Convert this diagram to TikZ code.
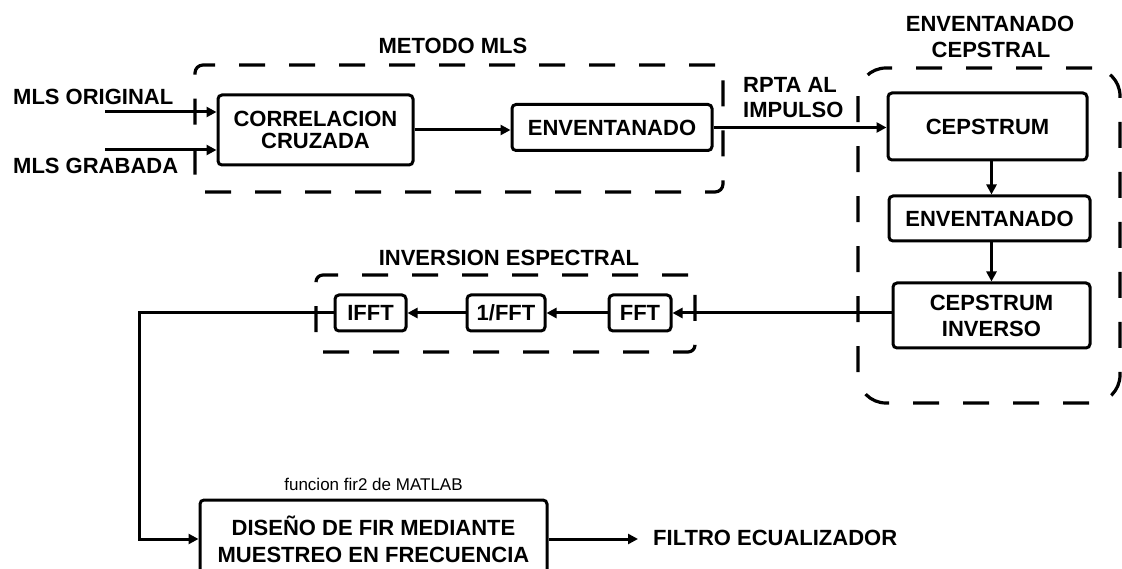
\documentclass[tikz,border=0pt]{standalone}
\usepackage{fontspec}
\setmainfont{Liberation Sans}
\usetikzlibrary{arrows.meta}
\begin{document}
\begin{tikzpicture}[x=1pt,y=-1pt,
  blk/.style={draw, line width=3pt, rounded corners=4pt, inner sep=0pt, align=center, fill=white,
              font=\bfseries\fontsize{22}{22}\selectfont},
  grp/.style={draw, line width=3.2pt, dash pattern=on 26pt off 24pt, inner sep=0pt},
  lbl/.style={inner sep=0pt, font=\bfseries\fontsize{22}{22}\selectfont},
  arr/.style={line width=3pt, -{Triangle[length=10pt,width=10pt]}},
]
\clip (0,0) rectangle (1122,569);
% groups
\node[grp, rounded corners=8pt, minimum width=528pt, minimum height=127pt] (gmls) at (459,128.5) {};
\node[grp, rounded corners=28pt, minimum width=262pt, minimum height=335pt] (gcep) at (989,235.5) {};
\node[grp, rounded corners=7pt, minimum width=379pt, minimum height=77pt] (ginv) at (505.5,313.5) {};
% titles
\node[lbl, anchor=base] (tmls) at (453,54) {METODO MLS};
\node[lbl, anchor=base] (tcep1) at (990,32) {ENVENTANADO};
\node[lbl, anchor=base] (tcep2) at (991,58) {CEPSTRAL};
\node[lbl, anchor=base] (tinv) at (509,266) {INVERSION ESPECTRAL};
\node[lbl, anchor=base west] (mlso) at (13,105) {MLS ORIGINAL};
\node[lbl, anchor=base west] (mlsg) at (13,174) {MLS GRABADA};
\node[lbl, anchor=base west] (rpta1) at (743,93) {RPTA AL};
\node[lbl, anchor=base west] (rpta2) at (743,118) {IMPULSO};
\node[inner sep=0pt, anchor=base, font=\fontsize{17}{17}\selectfont] (fn) at (373.5,490) {funcion fir2 de MATLAB};
\node[lbl, anchor=base west] (filt) at (653,545) {FILTRO ECUALIZADOR};
% blocks
\node[blk, minimum width=195pt, minimum height=70pt] (corr) at (315.5,130) {CORRELACION\\CRUZADA};
\node[blk, minimum width=200pt, minimum height=46pt] (env1) at (612,127.5) {ENVENTANADO};
\node[blk, minimum width=199pt, minimum height=67pt] (cep) at (987.5,126.5) {CEPSTRUM};
\node[blk, minimum width=201pt, minimum height=45pt] (env2) at (989.5,218.5) {ENVENTANADO};
\node[blk, minimum width=197pt, minimum height=65pt, font=\bfseries\fontsize{22}{26}\selectfont] (cinv) at (991.5,315.5) {CEPSTRUM\\INVERSO};
\node[blk, minimum width=62pt, minimum height=36pt] (fft) at (640,313) {FFT};
\node[blk, minimum width=78pt, minimum height=36pt] (rfft) at (506,313) {1/FFT};
\node[blk, minimum width=71pt, minimum height=36pt] (ifft) at (370.5,313) {IFFT};
\node[blk, minimum width=347pt, minimum height=78pt, font=\bfseries\fontsize{22}{27}\selectfont] (fir) at (373.5,539) {DISEÑO DE FIR MEDIANTE\\MUESTREO EN FRECUENCIA};
% connectors
\coordinate (mo) at (105,112);
\coordinate (mg) at (105,150);
\coordinate (corner) at (139,313);
\coordinate (out) at (638,539);
\draw[arr] (mo) -- (mo -| corr.west);
\draw[arr] (mg) -- (mg -| corr.west);
\draw[arr] (corr.east) -- (corr.east -| env1.west);
\draw[arr] (env1.east) -- (env1.east -| cep.west);
\draw[arr] (cep.south -| cinv) -- (env2.north -| cinv);
\draw[arr] (env2.south -| cinv) -- (cinv.north);
\draw[arr] (cinv.west |- fft) -- (fft.east);
\draw[arr] (fft.west) -- (rfft.east);
\draw[arr] (rfft.west) -- (ifft.east);
\draw[arr] (ifft.west) -- (corner) -- (corner |- fir.west) -- (fir.west);
\draw[arr] (fir.east) -- (out);
\end{tikzpicture}
\end{document}
